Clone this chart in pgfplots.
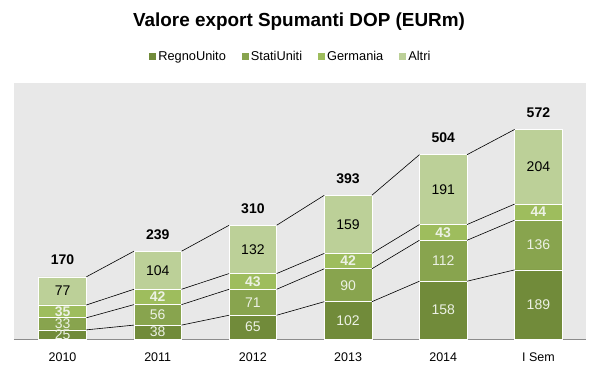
\documentclass[border=0pt]{standalone}
\usepackage{pgfplots}
\pgfplotsset{compat=1.18}
\usepackage{fontspec}
\setmainfont{Liberation Sans}
\definecolor{cRU}{RGB}{113,139,58}
\definecolor{cSU}{RGB}{136,164,78}
\definecolor{cGE}{RGB}{158,189,93}
\definecolor{cAL}{RGB}{188,208,152}
\definecolor{bg}{RGB}{232,232,232}
\definecolor{lbl}{RGB}{236,241,228}
\pgfplotsset{
  sq legend/.style={legend image code/.code={\fill[##1,draw=none] (0pt,-3.5pt) rectangle (7pt,3.5pt);}},
  lab/.style={only marks, mark=none, nodes near coords={\pgfplotspointmeta}, point meta=explicit symbolic,
    every node near coord/.append style={anchor=center, font=\fontsize{14}{16}\selectfont, #1}},
}
\begin{document}
\begin{tikzpicture}
\path[use as bounding box] (0pt,0pt) rectangle (601pt,373pt);
\node[font=\bfseries\fontsize{18.9}{21}\selectfont, anchor=base] at (299pt,346pt) {Valore export Spumanti DOP (EURm)};
\begin{axis}[
  at={(14pt,34pt)}, anchor=south west,
  scale only axis, width=572pt, height=256pt,
  xmin=-0.51, xmax=5.5, ymin=0, ymax=700,
  ybar stacked, bar width=0.5,
  axis x line=bottom, axis y line=none,
  x axis line style={-, draw=black!45, line width=0.8pt},
  axis background/.style={fill=bg},
  xtick={0,...,5}, xticklabels={2010,2011,2012,2013,2014,I Sem},
  major tick length=0pt,
  xticklabel style={font=\fontsize{12.5}{14}\selectfont, yshift=-10pt},
  ytick=\empty,
  legend columns=4,
  legend style={draw=none, fill=none, at={(0.484,1.105)}, anchor=center,
    font=\fontsize{12.8}{14}\selectfont,
    /tikz/every even column/.append style={column sep=14pt}},
]
\addplot[fill=cRU, draw=white, line width=0.6pt, sq legend] coordinates {(0,25) (1,38) (2,65) (3,102) (4,158) (5,189)};
\addlegendentry{RegnoUnito}
\addplot[fill=cSU, draw=white, line width=0.6pt, sq legend] coordinates {(0,33) (1,56) (2,71) (3,90) (4,112) (5,136)};
\addlegendentry{StatiUniti}
\addplot[fill=cGE, draw=white, line width=0.6pt, sq legend] coordinates {(0,35) (1,42) (2,43) (3,42) (4,43) (5,44)};
\addlegendentry{Germania}
\addplot[fill=cAL, draw=white, line width=0.6pt, sq legend] coordinates {(0,77) (1,104) (2,132) (3,159) (4,191) (5,204)};
\addlegendentry{Altri}
\end{axis}
\begin{axis}[
  at={(14pt,34pt)}, anchor=south west,
  scale only axis, width=572pt, height=256pt,
  xmin=-0.51, xmax=5.5, ymin=0, ymax=700,
  hide axis, clip=false, unbounded coords=jump,
]
\addplot[black, line width=0.6pt, mark=none] coordinates {(0.25,25) (0.75,38) (0.5,nan) (1.25,38) (1.75,65) (1.5,nan) (2.25,65) (2.75,102) (2.5,nan) (3.25,102) (3.75,158) (3.5,nan) (4.25,158) (4.75,189)};
\addplot[black, line width=0.6pt, mark=none] coordinates {(0.25,58) (0.75,94) (0.5,nan) (1.25,94) (1.75,136) (1.5,nan) (2.25,136) (2.75,192) (2.5,nan) (3.25,192) (3.75,270) (3.5,nan) (4.25,270) (4.75,325)};
\addplot[black, line width=0.6pt, mark=none] coordinates {(0.25,93) (0.75,136) (0.5,nan) (1.25,136) (1.75,179) (1.5,nan) (2.25,179) (2.75,234) (2.5,nan) (3.25,234) (3.75,313) (3.5,nan) (4.25,313) (4.75,369)};
\addplot[black, line width=0.6pt, mark=none] coordinates {(0.25,170) (0.75,240) (0.5,nan) (1.25,240) (1.75,311) (1.5,nan) (2.25,311) (2.75,393) (2.5,nan) (3.25,393) (3.75,504) (3.5,nan) (4.25,504) (4.75,573)};
\addplot[lab={text=lbl}] coordinates {(0,12.5)[25] (1,19)[38] (2,32.5)[65] (3,51)[102] (4,79)[158] (5,94.5)[189]};
\addplot[lab={text=lbl}] coordinates {(0,41.5)[33] (1,66)[56] (2,100.5)[71] (3,147)[90] (4,214)[112] (5,257)[136]};
\addplot[lab={text=lbl, font=\bfseries\fontsize{14}{16}\selectfont}] coordinates {(0,75.5)[35] (1,115)[42] (2,157.5)[43] (3,213)[42] (4,291.5)[43] (5,347)[44]};
\addplot[lab={text=black}] coordinates {(0,131.5)[77] (1,188)[104] (2,245)[132] (3,313.5)[159] (4,408.5)[191] (5,471)[204]};
\addplot[lab={text=black, font=\bfseries\fontsize{14}{16}\selectfont, anchor=base, yshift=12pt}] coordinates {(0,170)[170] (1,240)[239] (2,311)[310] (3,393)[393] (4,504)[504] (5,573)[572]};
\end{axis}
\end{tikzpicture}
\end{document}
